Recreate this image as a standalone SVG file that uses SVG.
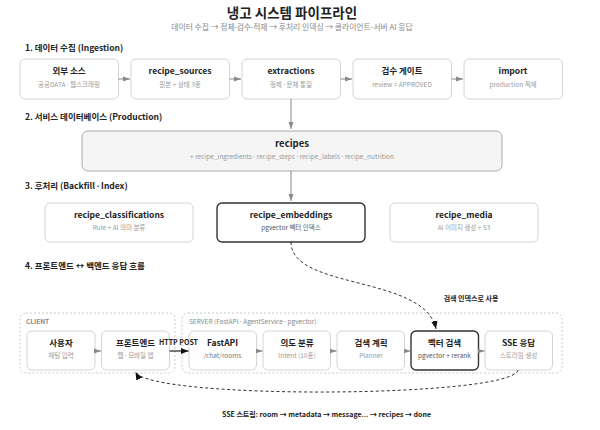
<svg xmlns="http://www.w3.org/2000/svg" width="600" height="430" viewBox="0 0 600 430">
<defs>
<style>
text{font-family:"Noto Sans CJK KR","Noto Sans",sans-serif;}
.d{font-family:"Noto Sans","Liberation Sans",sans-serif;}
.h1{font-size:13.5px;font-weight:700;fill:#222;text-anchor:middle;}
.h1s{font-size:7.8px;fill:#888;text-anchor:middle;}
.sec{font-size:8.5px;font-weight:700;fill:#222;}
.box{fill:#fff;stroke:#d4d4d4;stroke-width:1;}
.boxdb{fill:#f5f5f5;stroke:#aaa;stroke-width:1;}
.boxhi{fill:#fff;stroke:#333;stroke-width:1.4;}
.grp{fill:none;stroke:#c8c8c8;stroke-width:1;stroke-dasharray:2 2;}
.t{font-size:8.5px;font-weight:700;fill:#222;text-anchor:middle;}
.s{font-size:6.5px;fill:#999;text-anchor:middle;}
.sd{font-size:6.5px;fill:#555;text-anchor:middle;}
.glbl{font-size:6.5px;fill:#888;}
.lbl{font-size:7px;font-weight:700;fill:#222;text-anchor:middle;}
.ga{stroke:#888;stroke-width:1;fill:none;}
.ka{stroke:#222;stroke-width:1.2;fill:none;}
.da{stroke:#333;stroke-width:1;fill:none;stroke-dasharray:3 2.5;}
</style>
<marker id="mg" markerUnits="userSpaceOnUse" markerWidth="7" markerHeight="7" viewBox="0 0 10 10" refX="10" refY="5" orient="auto"><path d="M0,1.5 L10,5 L0,8.5 z" fill="#888"/></marker>
<marker id="mk" markerUnits="userSpaceOnUse" markerWidth="8" markerHeight="8" viewBox="0 0 10 10" refX="10" refY="5" orient="auto"><path d="M0,1 L10,5 L0,9 z" fill="#111"/></marker>
</defs>
<rect width="600" height="430" fill="#fff"/>
<text class="h1" x="292" y="18">냉고 시스템 파이프라인</text>
<text class="h1s" x="292" y="30">데이터 수집 → 정제<tspan class="d">·</tspan>검수<tspan class="d">·</tspan>적재 → 후처리 인덱싱 → 클라이언트-서버 AI 응답</text>

<text class="sec" x="25" y="51">1. 데이터 수집 (Ingestion)</text>
<text class="sec" x="25" y="120">2. 서비스 데이터베이스 (Production)</text>
<text class="sec" x="25" y="189">3. 후처리 (Backfill <tspan class="d">·</tspan> Index)</text>
<text class="sec" x="25" y="269">4. 프론트엔드 ↔ 백엔드 응답 흐름</text>

<g id="n-source"><rect class="box" x="20" y="59" width="98.5" height="40" rx="5"/><text class="t" x="69" y="74">외부 소스</text><text class="s" x="69" y="86.5">공공DATA <tspan class="d">·</tspan> 웹스크래핑</text></g>
<g id="n-recipe_sources"><rect class="box" x="131" y="59" width="98.5" height="40" rx="5"/><text class="t" x="180" y="74">recipe_sources</text><text class="s" x="180" y="86.5">원본 + 상태 3종</text></g>
<g id="n-extractions"><rect class="box" x="242" y="59" width="98.5" height="40" rx="5"/><text class="t" x="291" y="74">extractions</text><text class="s" x="291" y="86.5">정제 <tspan class="d">·</tspan> 문체 통일</text></g>
<g id="n-review"><rect class="box" x="353" y="59" width="98.5" height="40" rx="5"/><text class="t" x="402" y="74">검수 게이트</text><text class="s" x="402" y="86.5">review = APPROVED</text></g>
<g id="n-import"><rect class="box" x="464" y="59" width="98.5" height="40" rx="5"/><text class="t" x="513" y="74">import</text><text class="s" x="513" y="86.5">production 적재</text></g>

<g id="n-recipes"><rect class="boxdb" x="82" y="131" width="420" height="40" rx="6"/><text class="t" x="292" y="146.5" style="font-size:9.5px">recipes</text><text class="s" x="292" y="159">+ recipe_ingredients <tspan class="d">·</tspan> recipe_steps <tspan class="d">·</tspan> recipe_labels <tspan class="d">·</tspan> recipe_nutrition</text></g>

<g id="n-classifications"><rect class="box" x="45" y="203" width="148" height="39" rx="5"/><text class="t" x="119" y="218">recipe_classifications</text><text class="s" x="119" y="230">Rule + AI 의미 분류</text></g>
<g id="n-embeddings"><rect class="boxhi" x="217" y="203" width="148" height="39" rx="5"/><text class="t" x="291" y="218">recipe_embeddings</text><text class="sd" x="291" y="230">pgvector 벡터 인덱스</text></g>
<g id="n-media"><rect class="box" x="390" y="203" width="148" height="39" rx="5"/><text class="t" x="464" y="218">recipe_media</text><text class="s" x="464" y="230">AI 이미지 생성 + S3</text></g>

<g id="g-client"><rect class="grp" x="20" y="313" width="155" height="60" rx="6"/><text class="glbl" x="26" y="324" style="font-weight:700">CLIENT</text></g>
<g id="g-server"><rect class="grp" x="182" y="313" width="380" height="60" rx="6"/><text class="glbl" x="189" y="324">SERVER (FastAPI <tspan class="d">·</tspan> AgentService <tspan class="d">·</tspan> pgvector)</text></g>

<g id="n-user"><rect class="box" x="27" y="331" width="68" height="39" rx="5"/><text class="t" x="61" y="346">사용자</text><text class="s" x="61" y="358">채팅 입력</text></g>
<g id="n-frontend"><rect class="box" x="101.5" y="331" width="68" height="39" rx="5"/><text class="t" x="135.5" y="346">프론트엔드</text><text class="s" x="135.5" y="358">웹 <tspan class="d">·</tspan> 모바일 앱</text></g>
<g id="n-fastapi"><rect class="box" x="189" y="331" width="67.5" height="39" rx="5"/><text class="t" x="222.5" y="346">FastAPI</text><text class="s" x="222.5" y="358" style="fill:#777">/chat/rooms</text></g>
<g id="n-intent"><rect class="box" x="263" y="331" width="67.5" height="39" rx="5"/><text class="t" x="297" y="346">의도 분류</text><text class="s" x="297" y="358">Intent (10종)</text></g>
<g id="n-planner"><rect class="box" x="337" y="331" width="67.5" height="39" rx="5"/><text class="t" x="371" y="346">검색 계획</text><text class="s" x="371" y="358">Planner</text></g>
<g id="n-vector"><rect class="boxhi" x="411" y="331" width="67.5" height="39" rx="5"/><text class="t" x="444.5" y="346">벡터 검색</text><text class="sd" x="444.5" y="358">pgvector + rerank</text></g>
<g id="n-sse"><rect class="box" x="485" y="331" width="67.5" height="39" rx="5"/><text class="t" x="518.5" y="346">SSE 응답</text><text class="s" x="518.5" y="358">스트리밍 생성</text></g>

<g id="connectors">
<line class="ga" x1="118.5" y1="79" x2="130" y2="79" marker-end="url(#mg)"/>
<line class="ga" x1="229.5" y1="79" x2="241" y2="79" marker-end="url(#mg)"/>
<line class="ga" x1="340.5" y1="79" x2="352" y2="79" marker-end="url(#mg)"/>
<line class="ga" x1="451.5" y1="79" x2="463" y2="79" marker-end="url(#mg)"/>
<line class="ga" x1="291" y1="99" x2="291" y2="129" marker-end="url(#mg)"/>
<line class="ga" x1="291" y1="171" x2="291" y2="201" marker-end="url(#mg)"/>
<line class="ga" x1="95" y1="351" x2="101" y2="351" marker-end="url(#mg)"/>
<line class="ga" x1="256.5" y1="351" x2="262.5" y2="351" marker-end="url(#mg)"/>
<line class="ga" x1="330.5" y1="351" x2="336.5" y2="351" marker-end="url(#mg)"/>
<line class="ga" x1="404.5" y1="351" x2="410.5" y2="351" marker-end="url(#mg)"/>
<line class="ga" x1="478.5" y1="351" x2="484.5" y2="351" marker-end="url(#mg)"/>
<line class="ka" x1="169.5" y1="351" x2="188.5" y2="351" marker-end="url(#mk)"/>
<text class="lbl" x="178.5" y="344.5">HTTP POST</text>
<path class="da" d="M291,242 C291,290 425,275 436,329" marker-end="url(#mk)"/>
<text class="lbl" x="471" y="300.5">검색 인덱스로 사용</text>
<path class="da" d="M518,370 C512,398 150,400 135.5,372" marker-end="url(#mk)"/>
<text class="lbl" x="326.5" y="416.5">SSE 스트림: room → metadata → message... → recipes → done</text>
</g>
</svg>
